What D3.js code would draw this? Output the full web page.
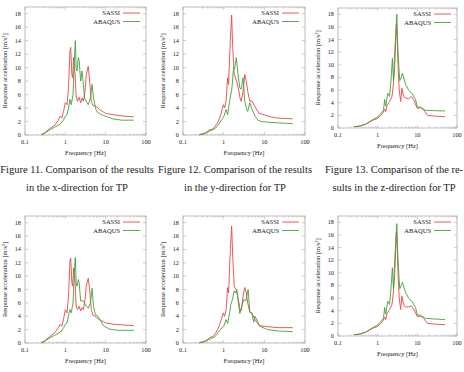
<!DOCTYPE html>
<html>
<head>
<meta charset="UTF-8">
<script src="https://d3js.org/d3.v7.min.js"></script>
<style>
  body { margin: 0; background: #fff; }
  svg { display: block; }
  text { font-family: "Liberation Serif", "Times New Roman", serif; fill: #222; }
</style>
</head>
<body>
<div id="chart"></div>
<script>
// [frequency Hz, acceleration m/s2]
const xSassi = [[0.25,0.05],[0.3,0.3],[0.35,0.6],[0.42,1.0],[0.5,1.3],[0.56,1.5],[0.67,2.2],[0.74,2.8],[0.82,2.5],[0.9,3.5],[1.0,4.8],[1.1,4.5],[1.2,7],[1.3,12.5],[1.36,13],[1.45,9],[1.52,8.5],[1.6,11.5],[1.75,9],[1.85,5.8],[2.0,5],[2.2,5.6],[2.4,4.8],[2.6,5.5],[2.8,5.0],[3.08,6.5],[3.3,9],[3.7,10.2],[4.0,8],[4.4,5],[4.8,4.4],[6.0,4.2],[7,3.8],[10,3.2],[16,3.0],[27,2.8],[50,2.7]];
const xAbaqus = [[0.25,0.03],[0.3,0.2],[0.42,0.8],[0.56,1.2],[0.74,1.6],[0.9,2.2],[1.0,2.8],[1.1,3.0],[1.2,4.0],[1.3,5.3],[1.4,4.5],[1.55,6],[1.7,12],[1.77,14],[1.85,10],[1.95,9.5],[2.1,11.5],[2.2,11],[2.4,8],[2.6,9.5],[2.8,7.5],[3.0,5.5],[3.3,5],[3.7,4.5],[4.2,5.5],[4.6,7.5],[5.0,5.5],[5.6,4],[6,3.5],[7,3.2],[8.8,2.9],[12,2.6],[15,2.4],[25,2.2],[50,2.2]];

const ySassi = [[0.25,0.05],[0.35,0.3],[0.46,0.8],[0.55,0.9],[0.65,1.5],[0.74,2],[0.85,3],[0.98,4.5],[1.05,4],[1.15,5],[1.25,8.5],[1.32,7.5],[1.46,14],[1.57,17.8],[1.67,13],[1.82,9],[2.08,8],[2.3,7],[2.52,5.5],[2.7,5],[3.0,6.5],[3.3,9],[3.6,8],[3.9,6.5],[4.4,5],[4.9,5.1],[5.9,4.2],[7.5,3.2],[10,3],[14,2.7],[22,2.5],[50,2.4]];
const yAbaqus = [[0.25,0.03],[0.35,0.2],[0.46,0.6],[0.6,0.9],[0.74,1.5],[0.9,2.3],[1.0,2.7],[1.15,3.8],[1.25,3.0],[1.4,5],[1.6,7],[1.75,10],[1.85,9.8],[2.05,11.5],[2.25,9],[2.5,7],[2.7,6.8],[3.0,8.5],[3.3,5],[3.7,3.8],[3.9,3.5],[4.4,4.8],[5,3.8],[5.9,2.8],[7,2.2],[8.6,2.0],[12.5,1.9],[22,1.8],[50,1.7]];

const zSassi = [[0.25,0.2],[0.35,0.3],[0.5,0.6],[0.65,1.0],[0.8,1.3],[1.0,1.5],[1.2,2],[1.4,2.5],[1.5,3.0],[1.6,2.6],[1.7,3.5],[2.0,4.2],[2.3,5],[2.5,7],[2.7,10],[2.85,14],[3.0,16.5],[3.15,13],[3.3,9],[3.5,6],[3.8,4.2],[4.1,6.3],[4.5,5],[5,4.8],[6,4.6],[7,5],[8,4.5],[10,3.1],[12,3.2],[14,3.0],[18,2.0],[25,1.9],[50,1.8]];
const zAbaqus = [[0.25,0.2],[0.35,0.3],[0.5,0.6],[0.65,1.1],[0.8,1.4],[1.0,1.7],[1.2,2.3],[1.4,2.8],[1.5,4.5],[1.6,3.5],[1.8,5.5],[2.0,5],[2.2,8],[2.35,11],[2.5,7.5],[2.7,12],[2.9,16],[3.05,18],[3.2,13],[3.4,10],[3.6,7.5],[3.9,8],[4.2,8.7],[5,7],[6,6],[7.3,5.5],[9,4.5],[10,3.3],[12,3.3],[16,2.8],[25,2.75],[50,2.7]];

const x2Sassi = [[0.25,0.05],[0.3,0.3],[0.42,1.0],[0.56,1.6],[0.67,2.3],[0.74,2.8],[0.82,2.5],[0.9,3.5],[1.0,5],[1.1,4.5],[1.2,7],[1.3,12.3],[1.36,12.7],[1.45,9],[1.52,8.5],[1.6,11.2],[1.75,9],[1.85,5.5],[2.0,5],[2.2,5.5],[2.4,4.8],[2.6,5.3],[2.8,5.0],[3.08,6.5],[3.3,8.5],[3.7,9.7],[4.0,8],[4.4,5],[4.8,4.2],[6.0,3.8],[7,3.5],[10,3.0],[16,2.8],[27,2.7],[50,2.6]];
const x2Abaqus = [[0.25,0.03],[0.3,0.2],[0.42,0.8],[0.56,1.2],[0.74,1.6],[0.9,2.2],[1.0,2.8],[1.1,3.0],[1.2,4.2],[1.3,5.0],[1.4,4.5],[1.55,6],[1.7,11.5],[1.77,12.8],[1.85,9],[1.95,8.5],[2.1,9.5],[2.2,9],[2.4,6.3],[2.8,6.3],[3.0,6.0],[3.3,5.5],[3.7,5.2],[4.2,6],[4.6,8.2],[5.0,5.5],[5.6,4.2],[6.4,4],[7,3.6],[8.8,2.6],[12,2.1],[20,1.9],[50,1.9]];

const y2Sassi = [[0.25,0.05],[0.35,0.3],[0.46,0.8],[0.55,1.0],[0.65,1.6],[0.74,2.2],[0.85,3.3],[0.98,4.5],[1.05,4],[1.15,5],[1.25,8.3],[1.32,7.5],[1.46,14],[1.57,17.5],[1.67,13],[1.82,8.5],[2.08,7.8],[2.3,6.5],[2.52,5],[2.7,4.8],[3.0,7],[3.3,8.3],[3.6,7.5],[3.9,6],[4.4,4.6],[4.9,4.5],[5.9,3.5],[7.5,2.6],[10,2.5],[14,2.4],[22,2.3],[50,2.3]];
const y2Abaqus = [[0.25,0.03],[0.35,0.2],[0.46,0.6],[0.6,0.9],[0.74,1.6],[0.9,2.3],[1.0,2.5],[1.15,3.5],[1.25,2.9],[1.4,4.5],[1.5,5.8],[1.65,6.5],[1.8,7.8],[1.95,7.5],[2.1,8],[2.3,6],[2.5,4.4],[2.8,5.5],[3.1,6.5],[3.5,6.3],[4.0,8],[4.4,4.6],[4.9,4.5],[5.5,3.1],[5.9,4.0],[7.8,2.5],[12,2.0],[22,1.8],[50,1.7]];

const z2Sassi = [[0.25,0.2],[0.35,0.3],[0.5,0.6],[0.65,1.0],[0.8,1.3],[1.0,1.5],[1.2,2],[1.4,2.5],[1.5,3.0],[1.6,2.6],[1.7,3.5],[2.0,4.2],[2.3,5],[2.5,7],[2.7,10],[2.85,14],[3.0,16.5],[3.15,13],[3.3,9],[3.5,6],[3.8,4.2],[4.1,6.3],[4.5,5],[5,4.6],[6,4.6],[7,4.8],[8,4.3],[10,3.1],[12,3.1],[14,2.9],[18,2.0],[25,1.9],[50,1.8]];
const z2Abaqus = [[0.25,0.2],[0.35,0.3],[0.5,0.6],[0.65,1.1],[0.8,1.4],[1.0,1.7],[1.2,2.3],[1.4,2.8],[1.5,4.5],[1.6,3.5],[1.8,5.5],[2.0,5],[2.2,8],[2.35,10.8],[2.5,7.5],[2.7,12],[2.9,16],[3.05,17.8],[3.2,13],[3.4,10],[3.6,7.5],[3.9,8],[4.2,8.5],[5,7],[6,6],[7.3,5.5],[9,4.5],[10,3.3],[12,3.3],[16,2.8],[25,2.7],[50,2.6]];

const seriesNames = ["SASSI", "ABAQUS"];
const colors = ["#ec4545", "#3da33d"];
const yTicks = [0, 2, 4, 6, 8, 10, 12, 14, 16, 18];
const xTicks = [0.1, 1, 10, 100];
const xTickLabels = ["0.1", "1", "10", "100"];
const xTitle = "Frequency [Hz]";
const yTitle = "Response acceleration [m/s²]";

const captions = [
  ["Figure 11. Comparison of the results", "in the x-direction for TP"],
  ["Figure 12. Comparison of the results", "in the y-direction for TP"],
  ["Figure 13. Comparison of the re-", "sults in the z-direction for TP"]
];

const W = 464, H = 372;
const svg = d3.select("#chart").append("svg").attr("width", W).attr("height", H);

// panel boxes
const panels = [
  { data: [xSassi, xAbaqus], left: 25, right: 146, top: 7, bottom: 135 },
  { data: [ySassi, yAbaqus], left: 183, right: 305, top: 7, bottom: 135 },
  { data: [zSassi, zAbaqus], left: 338, right: 457, top: 8, bottom: 128 },
  { data: [x2Sassi, x2Abaqus], left: 25, right: 146, top: 216, bottom: 343 },
  { data: [y2Sassi, y2Abaqus], left: 183, right: 305, top: 216, bottom: 343 },
  { data: [z2Sassi, z2Abaqus], left: 338, right: 457, top: 216, bottom: 336 }
];

panels.forEach((p) => {
  const x = d3.scaleLog().domain([0.1, 100]).range([p.left, p.right]);
  const y = d3.scaleLinear().domain([0, 19]).range([p.bottom, p.top]);
  const g = svg.append("g");

  // ticks, mirrored on both sides like gnuplot
  const minor = [];
  [0.1, 1, 10].forEach((d) => { for (let k = 2; k <= 9; k++) minor.push(d * k); });
  const tickG = g.append("g").attr("stroke", "#999").attr("stroke-width", 0.5);
  minor.forEach((f) => {
    tickG.append("line").attr("x1", x(f)).attr("x2", x(f)).attr("y1", p.bottom).attr("y2", p.bottom - 1.5);
    tickG.append("line").attr("x1", x(f)).attr("x2", x(f)).attr("y1", p.top).attr("y2", p.top + 1.5);
  });
  xTicks.forEach((f) => {
    tickG.append("line").attr("x1", x(f)).attr("x2", x(f)).attr("y1", p.bottom).attr("y2", p.bottom - 3);
    tickG.append("line").attr("x1", x(f)).attr("x2", x(f)).attr("y1", p.top).attr("y2", p.top + 3);
  });
  yTicks.forEach((v) => {
    tickG.append("line").attr("x1", p.left).attr("x2", p.left + 3).attr("y1", y(v)).attr("y2", y(v));
    tickG.append("line").attr("x1", p.right).attr("x2", p.right - 3).attr("y1", y(v)).attr("y2", y(v));
  });

  g.append("rect")
    .attr("x", p.left).attr("y", p.top)
    .attr("width", p.right - p.left).attr("height", p.bottom - p.top)
    .attr("fill", "none").attr("stroke", "#a0a0a0").attr("stroke-width", 0.7);

  g.selectAll(".yl").data(yTicks).enter().append("text")
    .attr("x", p.left - 4).attr("y", (d) => y(d) + 2)
    .attr("text-anchor", "end").attr("font-size", 6.3)
    .text((d) => d);
  g.selectAll(".xl").data(xTicks).enter().append("text")
    .attr("x", (d) => x(d)).attr("y", p.bottom + 8.5)
    .attr("text-anchor", "middle").attr("font-size", 6.3)
    .text((d, i) => xTickLabels[i]);

  g.append("text")
    .attr("x", (p.left + p.right) / 2).attr("y", p.bottom + 20)
    .attr("text-anchor", "middle").attr("font-size", 6.5)
    .text(xTitle);
  g.append("text")
    .attr("transform", `translate(${p.left - 18},${(p.top + p.bottom) / 2}) rotate(-90)`)
    .attr("text-anchor", "middle").attr("font-size", 6.5)
    .text(yTitle);

  const line = d3.line().x((d) => x(d[0])).y((d) => y(d[1]));
  p.data.forEach((s, i) => {
    g.append("path").datum(s)
      .attr("fill", "none").attr("stroke", colors[i]).attr("stroke-width", 0.9)
      .attr("stroke-linejoin", "round")
      .attr("d", line);
  });

  // legend
  seriesNames.forEach((name, i) => {
    const ly = p.top + 6 + i * 8.5;
    const lx = p.right - 26;
    g.append("text").attr("x", lx).attr("y", ly + 2)
      .attr("text-anchor", "end").attr("font-size", 6.5).text(name);
    g.append("line").attr("x1", lx + 3).attr("x2", lx + 20)
      .attr("y1", ly).attr("y2", ly)
      .attr("stroke", colors[i]).attr("stroke-width", 0.9);
  });
});

// captions under the top row
const capX = [77, 235, 394];
captions.forEach((c, i) => {
  c.forEach((t, j) => {
    svg.append("text")
      .attr("x", capX[i]).attr("y", 173 + j * 18)
      .attr("text-anchor", "middle").attr("font-size", 10.5)
      .text(t);
  });
});
</script>
</body>
</html>
